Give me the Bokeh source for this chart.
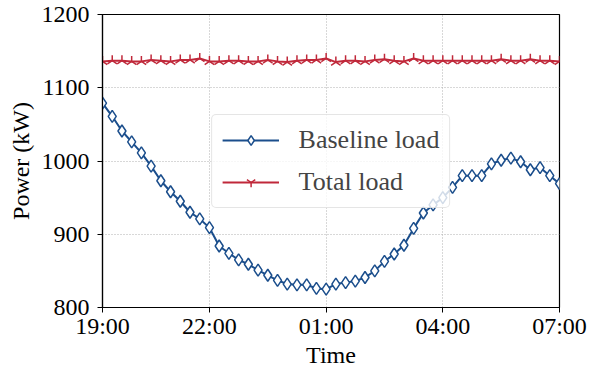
import numpy as np
from bokeh.plotting import figure
from bokeh.models import FixedTicker, Range1d
from bokeh.embed import file_html
from bokeh.resources import INLINE

# ---- data (15-min steps, index 0 = 19:00) ----
steps = list(range(48))
baseline_load = [1079, 1061, 1041, 1026, 1011, 993, 973, 958, 945, 930, 921, 909,
                 884, 874, 865, 859, 851, 844, 837, 832, 831, 831, 826, 825,
                 832, 834, 836, 841, 850, 863, 873, 885, 908, 929, 940, 950,
                 964, 980, 980, 980, 996, 1001, 1004, 999, 988, 991, 980, 969]
total_load = [1136, 1137, 1137, 1136, 1136, 1138, 1137, 1136, 1138, 1138, 1140, 1136,
              1136, 1137, 1137, 1136, 1136, 1138, 1136, 1135, 1137, 1138, 1138, 1140,
              1135, 1137, 1137, 1136, 1138, 1139, 1137, 1136, 1140, 1137, 1137, 1137,
              1137, 1137, 1137, 1137, 1137, 1139, 1137, 1137, 1139, 1137, 1137, 1136]
tick_positions = [0, 11, 23, 35, 47]
tick_labels = ["19:00", "22:00", "01:00", "04:00", "07:00"]
y_ticks = [800, 900, 1000, 1100, 1200]

BLUE = "#1b4e8c"
RED = "#c0283a"
FONT = "Liberation Serif"

p = figure(width=590, height=373, output_backend="svg", toolbar_location=None,
           x_range=Range1d(0, 47), y_range=Range1d(800, 1200),
           min_border_left=102, min_border_right=31, min_border_top=14, min_border_bottom=66)

p.line(steps, baseline_load, line_color=BLUE, line_width=2, legend_label="Baseline load")
p.scatter(steps, baseline_load, marker="diamond", size=12, fill_color="white",
          line_color=BLUE, line_width=1.5, legend_label="Baseline load")
p.line(steps, total_load, line_color=RED, line_width=2, legend_label="Total load")
p.scatter(steps, total_load, marker="y", angle=np.pi, size=11,
          line_color=RED, line_width=1.5, legend_label="Total load")

p.xaxis.ticker = FixedTicker(ticks=tick_positions)
p.xaxis.major_label_overrides = {t: l for t, l in zip(tick_positions, tick_labels)}
p.yaxis.ticker = FixedTicker(ticks=y_ticks)
p.xaxis.axis_label = "Time"
p.yaxis.axis_label = "Power (kW)"

for ax in (p.xaxis, p.yaxis):
    ax.axis_label_text_font = FONT
    ax.axis_label_text_font_style = "normal"
    ax.axis_label_text_font_size = "24px"
    ax.axis_label_text_color = "black"
    ax.major_label_text_font = FONT
    ax.major_label_text_font_size = "24px"
    ax.major_label_text_color = "black"
    ax.axis_line_color = "black"
    ax.axis_line_width = 1.2
    ax.major_tick_line_color = "black"
    ax.major_tick_out = 5
    ax.major_tick_in = 0
    ax.minor_tick_line_color = None
p.xaxis.major_label_standoff = 0
p.xaxis.axis_label_standoff = 0
p.yaxis.major_label_standoff = 8
p.yaxis.axis_label_standoff = 5

p.outline_line_color = "black"
p.outline_line_width = 1.2
p.grid.grid_line_color = "#b0b0b0"
p.grid.grid_line_dash = "1 2"
p.grid.grid_line_width = 1
p.background_fill_color = "white"

lg = p.legend[0]
lg.location = "center"
lg.label_text_font = FONT
lg.label_text_font_size = "26px"
lg.glyph_width = 57
lg.glyph_height = 24
lg.label_height = 24
lg.label_standoff = 20
lg.spacing = 12
lg.padding = 10
lg.border_line_color = "#cccccc"
lg.border_line_width = 1
lg.background_fill_alpha = 0.8
try:
    lg.border_radius = 5
except Exception:
    pass

open("out.html", "w").write(file_html(p, INLINE))
